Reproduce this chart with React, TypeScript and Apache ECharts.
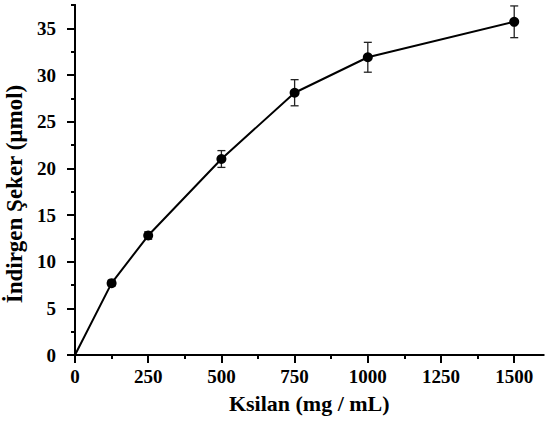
import React, { useEffect, useRef } from "react";
import * as echarts from "echarts";

const xValues = [0, 125, 250, 500, 750, 1000, 1500];
const yValues = [0, 7.7, 12.8, 21.0, 28.1, 31.9, 35.7];
const yErrors = [0, 0.3, 0.4, 0.9, 1.4, 1.6, 1.7];
const xMajorTicks = [0, 250, 500, 750, 1000, 1250, 1500];
const xMinorTicks = [125, 375, 625, 875, 1125, 1375];
const yMajorTicks = [0, 5, 10, 15, 20, 25, 30, 35];
const yMinorTicks = [2.5, 7.5, 12.5, 17.5, 22.5, 27.5, 32.5, 37.5];

const FONT = "'Liberation Serif', 'Times New Roman', serif";

export default function App() {
  const ref = useRef<HTMLDivElement>(null);
  useEffect(() => {
    if (!ref.current) return;
    const chart = echarts.init(ref.current, null, { renderer: "svg" });
    const axisLine = { show: true, lineStyle: { color: "#000", width: 2 } };
    const lineData = xValues.map((x, i) => ({
      value: [x, yValues[i]],
      symbolSize: i === 0 ? 0 : 10,
    }));
    const errData = xValues
      .map((x, i) => [x, yValues[i] - yErrors[i], yValues[i] + yErrors[i]])
      .filter((_, i) => yErrors[i] > 0);
    const plain = (v: number) => String(v);
    chart.setOption({
      animation: false,
      backgroundColor: "#fff",
      grid: {
        left: 75,
        right: 2.5,
        top: 5,
        bottom: 66,
        containLabel: false,
        outerBoundsMode: "none",
      },
      xAxis: [
        {
          type: "value",
          min: 0,
          max: 1600,
          axisLine,
          splitLine: { show: false },
          axisTick: {
            show: true,
            customValues: xMajorTicks,
            length: 8,
            inside: false,
            lineStyle: { color: "#000", width: 2 },
          },
          axisLabel: {
            customValues: xMajorTicks,
            formatter: plain,
            margin: 12,
            fontFamily: FONT,
            fontWeight: "bold",
            fontSize: 19,
            color: "#000",
          },
          name: "Ksilan (mg / mL)",
          nameLocation: "middle",
          nameGap: 37,
          nameTextStyle: {
            fontFamily: FONT,
            fontWeight: "bold",
            fontSize: 22,
            color: "#000",
          },
        },
        {
          type: "value",
          min: 0,
          max: 1600,
          position: "bottom",
          axisLine,
          splitLine: { show: false },
          axisTick: {
            show: true,
            customValues: xMinorTicks,
            length: 4,
            lineStyle: { color: "#000", width: 2 },
          },
          axisLabel: { show: false },
        },
      ],
      yAxis: [
        {
          type: "value",
          min: 0,
          max: 37.5,
          axisLine,
          splitLine: { show: false },
          axisTick: {
            show: true,
            customValues: yMajorTicks,
            length: 8,
            lineStyle: { color: "#000", width: 2 },
          },
          axisLabel: {
            customValues: yMajorTicks,
            formatter: plain,
            margin: 19,
            fontFamily: FONT,
            fontWeight: "bold",
            fontSize: 19,
            color: "#000",
          },
          name: "İndirgen Şeker (µmol)",
          nameLocation: "middle",
          nameGap: 27,
          nameTextStyle: {
            fontFamily: FONT,
            fontWeight: "bold",
            fontSize: 23,
            color: "#000",
            padding: [0, 28, 0, 0],
          },
        },
        {
          type: "value",
          min: 0,
          max: 37.5,
          position: "left",
          axisLine,
          splitLine: { show: false },
          axisTick: {
            show: true,
            customValues: yMinorTicks,
            length: 4,
            lineStyle: { color: "#000", width: 2 },
          },
          axisLabel: { show: false },
        },
      ],
      series: [
        {
          type: "custom",
          xAxisIndex: 0,
          yAxisIndex: 0,
          data: errData,
          z: 1,
          renderItem: (params: any, api: any) => {
            const x = api.value(0);
            const lo = api.coord([x, api.value(1)]);
            const hi = api.coord([x, api.value(2)]);
            const hw = 4;
            const style = { stroke: "#222", lineWidth: 1.3 };
            return {
              type: "group",
              children: [
                { type: "line", shape: { x1: lo[0], y1: lo[1], x2: hi[0], y2: hi[1] }, style },
                { type: "line", shape: { x1: lo[0] - hw, y1: lo[1], x2: lo[0] + hw, y2: lo[1] }, style },
                { type: "line", shape: { x1: hi[0] - hw, y1: hi[1], x2: hi[0] + hw, y2: hi[1] }, style },
              ],
            };
          },
        },
        {
          type: "line",
          xAxisIndex: 0,
          yAxisIndex: 0,
          data: lineData,
          symbol: "circle",
          z: 3,
          lineStyle: { color: "#000", width: 2 },
          itemStyle: { color: "#000" },
        },
      ],
    });
    return () => chart.dispose();
  }, []);
  return (
    <div
      ref={ref}
      style={{ position: "fixed", left: 0, top: 0, width: 546, height: 421 }}
    />
  );
}
